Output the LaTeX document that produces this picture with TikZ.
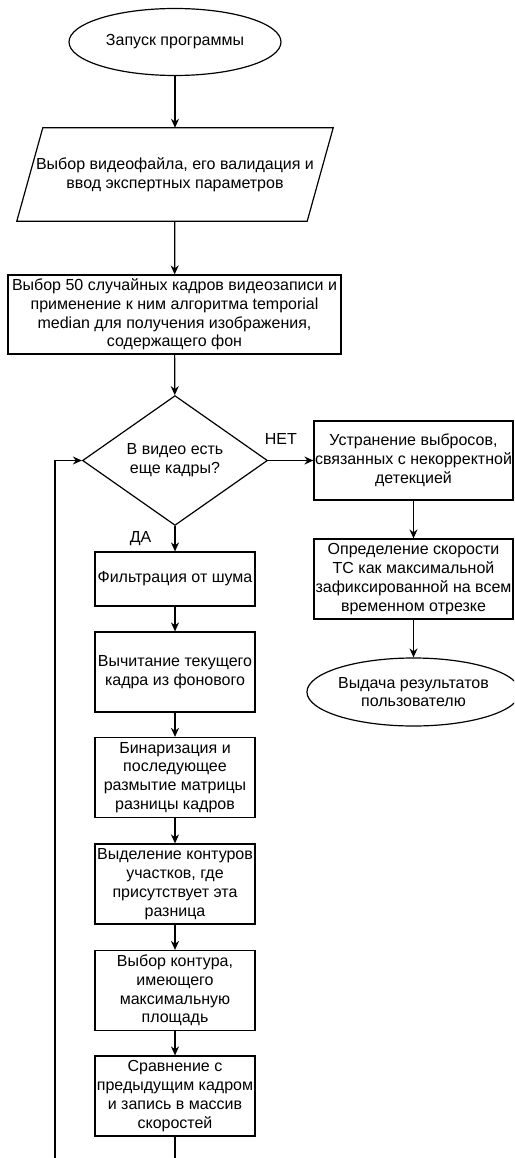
\documentclass[tikz,border=0pt]{standalone}
\usepackage{fontspec}
\setmainfont{Liberation Sans}
\usetikzlibrary{calc,shapes,arrows.meta}

\begin{document}
\begin{tikzpicture}[x=1pt,y=-1pt]
  %% ALGORITHM SCHEMA

  \tikzstyle{every node}=[font=\fontsize{16}{18.8}\selectfont, align=center, inner sep=0pt]
  \tikzstyle{every edge}=[-{Stealth[length=9pt,width=8pt]},line width=1.2pt,draw]
  \tikzstyle{process}=[draw,line width=1.2pt,rectangle,minimum width=160pt,minimum height=80pt]
  \tikzstyle{terminal}=[draw,line width=1.2pt,ellipse,minimum width=212pt,minimum height=67pt]
  \tikzstyle{decision}=[draw,line width=1.2pt,diamond,minimum width=185pt,minimum height=105pt]
  \useasboundingbox (0,0) rectangle (514,1158);
  \clip (0,0) rectangle (514,1158);

  % main column
  \node[terminal] (start) at (175,42) {Запуск программы};
  \node[minimum width=316pt,minimum height=93pt] (input) at (175,174.5)
  {Выбор видеофайла, его валидация и\\ввод экспертных параметров};
  \draw[line width=1.2pt] (input.south west) -- ($(input.north west)+(26,0)$)
  -- (input.north east) -- ($(input.south east)+(-26,0)$) -- cycle;
  \node[process,minimum width=333pt,minimum height=79pt] (median) at (174.5,314.5)
  {Выбор 50 случайных кадров видеозаписи и\\применение к ним алгоритма temporial\\median для получения изображения,\\содержащего фон};
  \node[decision] (cond) at (175,460.5) {В видео есть\\еще кадры?};

  % loop body
  \node[process,minimum height=54pt] (noise) at (175,579) {Фильтрация от шума};
  \node[process] (diff) at (175,672) {Вычитание текущего\\кадра из фонового};
  \node[process] (bin) at (175,777.5) {Бинаризация и\\последующее\\размытие матрицы\\разницы кадров};
  \node[process] (cont) at (175,884) {Выделение контуров\\участков, где\\присутствует эта\\разница};
  \node[process] (area) at (175,990.5) {Выбор контура,\\имеющего\\максимальную\\площадь};
  \node[process] (cmp) at (175,1096) {Сравнение с\\предыдущим кадром\\и запись в массив\\скоростей};

  % exit branch
  \node[process,minimum width=199pt,minimum height=79pt] (outl) at (413.5,460.5)
  {Устранение выбросов,\\связанных с некорректной\\детекцией};
  \node[process,minimum width=199pt] (speed) at (413.5,579)
  {Определение скорости\\ТС как максимальной\\зафиксированной на всем\\временном отрезке};
  \node[terminal,minimum width=204pt,minimum height=68pt] (result) at (413.5,692)
  {Выдача результатов\\пользователю};

  \path (start) edge (input)
  (input) edge (median)
  (median) edge (cond)
  (cond) edge node[above=15.5pt,pos=0.28] (no) {НЕТ} (outl)
  (cond) edge node[left=23pt] (yes) {ДА} (noise)
  (outl) edge (speed)
  (speed) edge (result);

  \foreach \from/\to in {noise/diff,diff/bin,bin/cont,cont/area,area/cmp}{
    \path (\from) edge (\to);
  }

  % back to the test
  \draw[line width=1.2pt,-{Stealth[length=9pt,width=8pt]}] (cmp.south) -- ++(0,40)
  -| ($(cond.west)+(-27,0)$) -- (cond.west);
\end{tikzpicture}
\end{document}
